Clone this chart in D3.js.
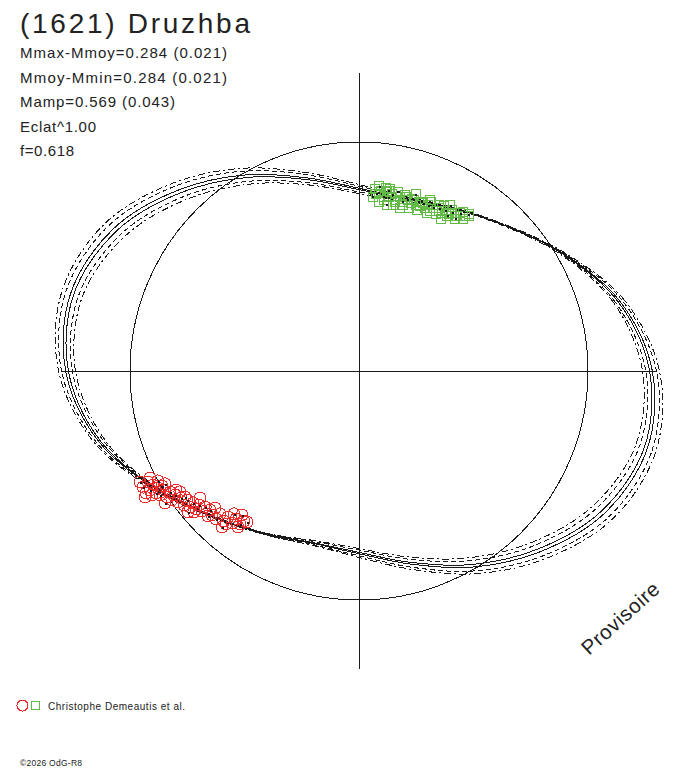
<!DOCTYPE html>
<html><head><meta charset="utf-8">
<script src="https://cdn.jsdelivr.net/npm/d3@7/dist/d3.min.js"></script>
<style>html,body{margin:0;padding:0;background:#fff}svg{display:block}</style>
</head><body>
<svg id="chart" width="688" height="768"></svg>
<script>
// ---------- data ----------
const titleText = "(1621) Druzhba";
const infoLines = ["Mmax-Mmoy=0.284 (0.021)", "Mmoy-Mmin=0.284 (0.021)", "Mamp=0.569 (0.043)", "Eclat^1.00", "f=0.618"];
const creditText = "Christophe Demeautis et al.";
const copyrightText = "\u00A92026 OdG-R8";
const watermarkText = "Provisoire";

const axisExtent = [-1.3, 1.3];
const referenceCircleRadius = 1;

// polar angles (deg) of the amplitude curves; curves are centrally symmetric (r(a+180)=r(a))
const curveAngles = [0, 15, 30, 45, 60, 75, 90, 105, 120, 135, 150, 165];
const curveOuterDashDot = [1.312, 1.199, 1.035, 0.904, 0.825, 0.788, 0.814, 0.897, 1.022, 1.157, 1.284, 1.343];
const curveOuterDashed  = [1.299, 1.190, 1.032, 0.902, 0.824, 0.784, 0.807, 0.887, 1.008, 1.140, 1.265, 1.326];
const curveOuterSolid   = [1.281, 1.179, 1.028, 0.900, 0.822, 0.779, 0.798, 0.873, 0.989, 1.117, 1.240, 1.304];
const curveInnerSolid   = [1.269, 1.171, 1.025, 0.899, 0.820, 0.776, 0.792, 0.865, 0.976, 1.101, 1.223, 1.290];
const curveInnerDashed  = [1.252, 1.159, 1.021, 0.897, 0.818, 0.770, 0.782, 0.851, 0.957, 1.079, 1.198, 1.268];
const curveInnerDashDot = [1.238, 1.151, 1.017, 0.895, 0.817, 0.766, 0.775, 0.841, 0.943, 1.061, 1.179, 1.251];

const greenX = [0.066,0.087,0.114,0.074,0.092,0.105,0.118,0.127,0.135,0.144,0.157,0.166,0.175,0.188,0.197,0.210,0.223,0.231,0.245,0.258,0.266,0.279,0.288,0.301,0.310,0.323,0.336,0.349,0.362,0.376,0.389,0.406,0.424,0.441,0.459,0.476,0.083,0.118,0.148,0.057,0.179,0.245,0.310,0.397,0.450,0.419,0.354,
  0.083,0.109,0.127,0.153,0.170,0.192,0.205,0.218,0.236,0.253,0.271,0.293,0.314,0.332,0.345,0.371,0.384,0.402,0.454,0.476];
const greenY = [0.799,0.808,0.803,0.777,0.790,0.764,0.782,0.760,0.795,0.773,0.751,0.786,0.764,0.742,0.769,0.751,0.734,0.755,0.729,0.742,0.721,0.734,0.712,0.725,0.703,0.716,0.699,0.712,0.690,0.703,0.686,0.694,0.681,0.690,0.677,0.686,0.738,0.729,0.725,0.764,0.712,0.773,0.747,0.725,0.668,0.668,0.668,
  0.782,0.751,0.790,0.742,0.786,0.725,0.760,0.716,0.751,0.707,0.742,0.694,0.738,0.686,0.729,0.721,0.681,0.705,0.697,0.679];

const redX = [-0.943,-0.921,-0.913,-0.900,-0.886,-0.878,-0.869,-0.856,-0.847,-0.838,-0.825,-0.817,-0.803,-0.790,-0.777,-0.764,-0.751,-0.738,-0.725,-0.712,-0.699,-0.686,-0.672,-0.642,-0.624,-0.607,-0.590,-0.572,-0.555,-0.537,-0.520,-0.502,-0.956,-0.930,-0.489,-0.913,-0.878,-0.934,-0.847,-0.782,-0.747,-0.694,-0.659,-0.629,-0.598,-0.528,-0.511,
  -0.904,-0.860,-0.799,-0.760,-0.721,-0.651,-0.581,-0.546];
const redY = [-0.507,-0.485,-0.520,-0.498,-0.533,-0.511,-0.541,-0.520,-0.493,-0.550,-0.528,-0.563,-0.541,-0.572,-0.555,-0.585,-0.563,-0.594,-0.576,-0.603,-0.585,-0.611,-0.594,-0.629,-0.646,-0.624,-0.655,-0.638,-0.664,-0.646,-0.668,-0.655,-0.485,-0.533,-0.659,-0.467,-0.480,-0.550,-0.576,-0.528,-0.616,-0.555,-0.633,-0.598,-0.681,-0.681,-0.629,
  -0.541,-0.502,-0.520,-0.550,-0.616,-0.607,-0.668,-0.624];

// ---------- drawing ----------
const svg = d3.select("#chart");
const ink = "#1a1a1a";
const cxPx = 359, cyPx = 371, half = 297.7;
const x = d3.scaleLinear().domain(axisExtent).range([cxPx - half, cxPx + half]);
const y = d3.scaleLinear().domain(axisExtent).range([cyPx + half, cyPx - half]);

const marks = svg.append("g").attr("shape-rendering", "crispEdges");

// axes through origin
marks.append("line").attr("x1", x(axisExtent[0])).attr("x2", x(axisExtent[1]))
  .attr("y1", y(0) + 0.5).attr("y2", y(0) + 0.5).attr("stroke", ink).attr("stroke-width", 1);
marks.append("line").attr("x1", x(0) + 0.5).attr("x2", x(0) + 0.5)
  .attr("y1", y(axisExtent[1])).attr("y2", y(axisExtent[0])).attr("stroke", ink).attr("stroke-width", 1);

// reference circle
marks.append("circle").attr("cx", x(0)).attr("cy", y(0))
  .attr("r", x(referenceCircleRadius) - x(0))
  .attr("fill", "none").attr("stroke", ink).attr("stroke-width", 1);

// amplitude curves
function curvePoints(radii) {
  const pts = [];
  for (let i = 0; i < 24; i++) {
    const a = (curveAngles[i % 12] + (i >= 12 ? 180 : 0)) * Math.PI / 180;
    const r = radii[i % 12];
    pts.push([r * Math.cos(a), r * Math.sin(a)]);
  }
  return pts;
}
const line = d3.line().x(d => x(d[0])).y(d => y(d[1])).curve(d3.curveCatmullRomClosed.alpha(0.5));
const curveDefs = [
  { data: curveOuterDashDot, dash: "7,3,2,3" },
  { data: curveOuterDashed, dash: "5,3" },
  { data: curveOuterSolid, dash: null },
  { data: curveInnerSolid, dash: null },
  { data: curveInnerDashed, dash: "5,3" },
  { data: curveInnerDashDot, dash: "7,3,2,3" }
];
curveDefs.forEach(c => {
  marks.append("path").attr("d", line(curvePoints(c.data)))
    .attr("fill", "none").attr("stroke", ink).attr("stroke-width", 1)
    .attr("stroke-dasharray", c.dash);
});

// observation markers
const redColor = "#ee2a2a", greenColor = "#62bb46";
const redPts = redX.map((v, i) => [v, redY[i]]);
const greenPts = greenX.map((v, i) => [v, greenY[i]]);
marks.append("g").selectAll("circle").data(redPts).join("circle")
  .attr("cx", d => x(d[0])).attr("cy", d => y(d[1])).attr("r", 6)
  .attr("fill", "none").attr("stroke", redColor).attr("stroke-width", 1);
const sq = 9;
marks.append("g").selectAll("rect").data(greenPts).join("rect")
  .attr("x", d => Math.round(x(d[0]) - sq / 2) + 0.5).attr("y", d => Math.round(y(d[1]) - sq / 2) + 0.5)
  .attr("width", sq).attr("height", sq)
  .attr("fill", "none").attr("stroke", greenColor).attr("stroke-width", 1);
marks.append("g").selectAll("rect").data(redPts.concat(greenPts).filter((d, i) => i % 2 === 0)).join("rect")
  .attr("x", d => Math.round(x(d[0]))).attr("y", d => Math.round(y(d[1])))
  .attr("width", 1.5).attr("height", 1.5).attr("fill", ink);

// texts
const font = "'Liberation Sans', Arial, sans-serif";
const textColor = "#222";
svg.append("text").attr("x", 20).attr("y", 33).text(titleText)
  .attr("font-family", font).attr("font-size", 28).attr("fill", textColor)
  .attr("textLength", 230).attr("lengthAdjust", "spacing");
const infoBase = [58, 83, 107, 132, 156];
const infoLen = [207, 207, 155, 76, 54];
infoLines.forEach((t, i) => {
  svg.append("text").attr("x", 20).attr("y", infoBase[i]).text(t)
    .attr("font-family", font).attr("font-size", 15).attr("fill", textColor)
    .attr("textLength", infoLen[i]).attr("lengthAdjust", "spacing");
});

// legend
const lg = svg.append("g").attr("shape-rendering", "crispEdges");
lg.append("circle").attr("cx", 22.5).attr("cy", 705.5).attr("r", 5.5)
  .attr("fill", "none").attr("stroke", redColor).attr("stroke-width", 1);
lg.append("rect").attr("x", 31.5).attr("y", 701.5).attr("width", 8).attr("height", 8)
  .attr("fill", "none").attr("stroke", greenColor).attr("stroke-width", 1);
svg.append("text").attr("x", 48).attr("y", 709.5).text(creditText)
  .attr("font-family", font).attr("font-size", 10).attr("fill", textColor)
  .attr("textLength", 137).attr("lengthAdjust", "spacing");
svg.append("text").attr("x", 20).attr("y", 766).text(copyrightText)
  .attr("font-family", font).attr("font-size", 8.5).attr("fill", textColor)
  .attr("textLength", 62).attr("lengthAdjust", "spacing");

// watermark
svg.append("text").attr("transform", "translate(589,656) rotate(-42)").text(watermarkText)
  .attr("font-family", font).attr("font-size", 20.5).attr("fill", textColor)
  .attr("textLength", 97).attr("lengthAdjust", "spacing");
</script>
</body></html>
